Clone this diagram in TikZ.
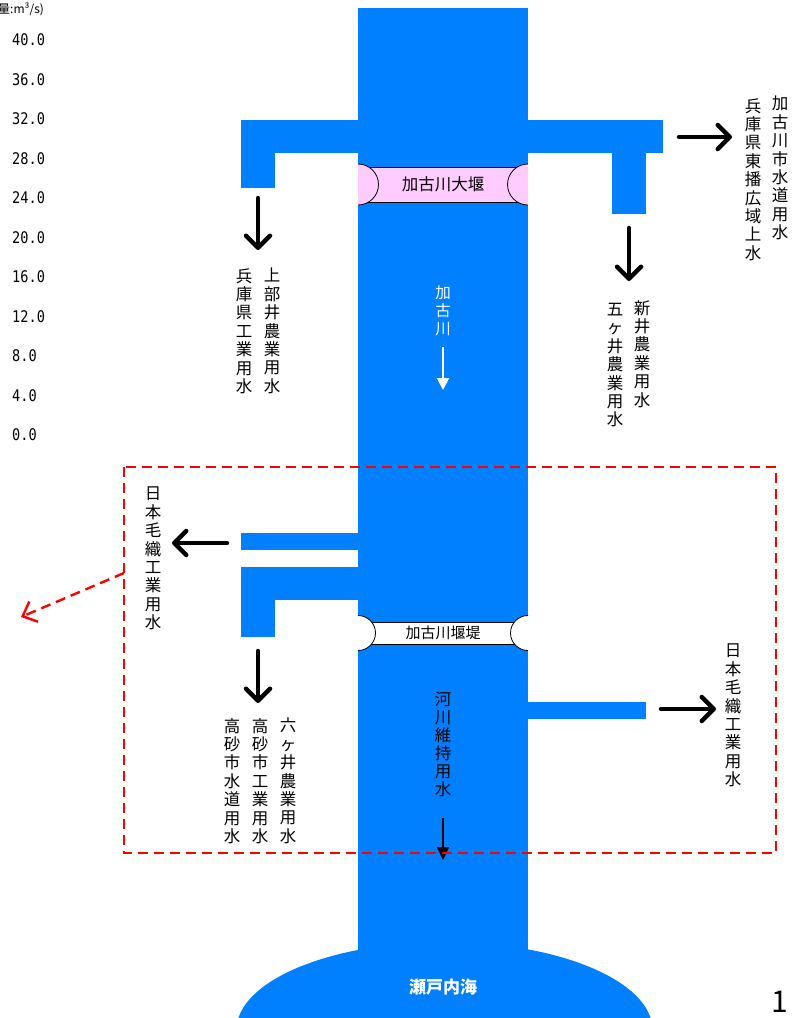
\documentclass[tikz,border=0pt]{standalone}
\usepackage{fontspec}
\setmainfont{Noto Sans CJK JP}
\newfontfamily\scalefont{DejaVu Sans Mono}[FakeStretch=0.85]
\usetikzlibrary{arrows.meta}
\definecolor{river}{RGB}{0,128,255}
\definecolor{weirpink}{RGB}{255,204,255}
\definecolor{frame}{RGB}{255,0,0}
\begin{document}
\begin{tikzpicture}[x=1pt,y=-1pt,
  vtext/.style={anchor=north,align=center,inner sep=0pt,
    font=\fontsize{16.5}{18.4}\selectfont},
  flow/.style={line width=4.5pt,line cap=round,
    -{Straight Barb[round,length=12pt,width=24pt]}},
  weirline/.style={draw=black,line width=0.8pt},
]
\useasboundingbox (0,0) rectangle (796,1018);

% sea and main channel
\fill[river] (444.5,1030) ellipse[x radius=208,y radius=88];
\fill[river] (358,8) rectangle (528,950);
\node[font=\fontsize{17}{20}\selectfont\bfseries,text=white] (sea) at (443,987) {瀬戸内海};

% intake channels
\fill[river] (241,120) rectangle (358,153);
\fill[river] (241,152) rectangle (275,188);
\fill[river] (528,120) rectangle (663,153);
\fill[river] (612,152) rectangle (646,214);
\fill[river] (241,533) rectangle (358,550);
\fill[river] (241,567) rectangle (358,600);
\fill[river] (241,599) rectangle (275,637);
\fill[river] (528,702) rectangle (646,719);

% upper weir
\fill[weirpink] (358,167) rectangle (528,202);
\draw[weirline] (358,167) -- (528,167) (358,202) -- (528,202);
\fill[weirpink] (358,164) arc[start angle=-90,end angle=90,radius=20.5] -- cycle;
\draw[weirline] (358,164) arc[start angle=-90,end angle=90,radius=20.5];
\fill[weirpink] (528,164) arc[start angle=-90,end angle=-270,radius=20.5] -- cycle;
\draw[weirline] (528,164) arc[start angle=-90,end angle=-270,radius=20.5];
\node[font=\fontsize{16.5}{18}\selectfont] (weir1) at (443,184.5) {加古川大堰};

% lower weir
\fill[white] (358,622) rectangle (528,644);
\draw[weirline] (358,622) -- (528,622) (358,644) -- (528,644);
\fill[white] (358,615.5) arc[start angle=-90,end angle=90,radius=17.5] -- cycle;
\draw[weirline] (358,615.5) arc[start angle=-90,end angle=90,radius=17.5];
\fill[white] (528,615.5) arc[start angle=-90,end angle=-270,radius=17.5] -- cycle;
\draw[weirline] (528,615.5) arc[start angle=-90,end angle=-270,radius=17.5];
\node[font=\fontsize{15}{18}\selectfont] (weir2) at (443,633) {加古川堰堤};

% river labels and flow direction
\node[vtext,text=white,font=\fontsize{15.5}{18}\selectfont] (kako) at (443,285) {加\\古\\川};
\coordinate (w1) at (443,347);
\coordinate (w2) at (443,390);
\draw[white,line width=2pt,-{Triangle[length=12pt,width=12pt]}] (w1) -- (w2);
\node[vtext,font=\fontsize{16.5}{18}\selectfont] (maint) at (443,692) {河\\川\\維\\持\\用\\水};
\coordinate (m1) at (443,818);
\coordinate (m2) at (443,860);
\draw[black,line width=2pt,-{Triangle[length=13pt,width=12pt]}] (m1) -- (m2);

% withdrawal arrows
\coordinate (a1s) at (258,198); \coordinate (a1e) at (258,250);
\coordinate (a2s) at (629,228); \coordinate (a2e) at (629,281);
\coordinate (a3s) at (679,137); \coordinate (a3e) at (732,137);
\coordinate (a4s) at (227,543); \coordinate (a4e) at (172,543);
\coordinate (a5s) at (258,651); \coordinate (a5e) at (258,703);
\coordinate (a6s) at (661,709); \coordinate (a6e) at (716,709);
\foreach \s/\e in {a1s/a1e,a2s/a2e,a3s/a3e,a4s/a4e,a5s/a5e,a6s/a6e}
  \draw[flow] (\s) -- (\e);

% user labels
\node[vtext] (u1) at (272,268) {上\\部\\井\\農\\業\\用\\水};
\node[vtext] (u2) at (244,268) {兵\\庫\\県\\工\\業\\用\\水};
\node[vtext] (u3) at (642,300) {新\\井\\農\\業\\用\\水};
\node[vtext] (u4) at (615,303) {五\\ヶ\\井\\農\\業\\用\\水};
\node[vtext] (u5) at (780,96) {加\\古\\川\\市\\水\\道\\用\\水};
\node[vtext] (u6) at (753,98) {兵\\庫\\県\\東\\播\\広\\域\\上\\水};
\node[vtext] (u7) at (153,487) {日\\本\\毛\\織\\工\\業\\用\\水};
\node[vtext] (u8) at (288,718) {六\\ヶ\\井\\農\\業\\用\\水};
\node[vtext] (u9) at (260,718) {高\\砂\\市\\工\\業\\用\\水};
\node[vtext] (u10) at (232,718) {高\\砂\\市\\水\\道\\用\\水};
\node[vtext] (u11) at (733,644) {日\\本\\毛\\織\\工\\業\\用\\水};

% highlighted section
\draw[frame,line width=2.6pt,dash pattern=on 10pt off 6pt] (124,467) rectangle (776,853);
\coordinate (r1) at (124,573);
\coordinate (r2) at (21,617);
\draw[frame,line width=2.4pt,dash pattern=on 10pt off 6pt,
  -{Straight Barb[length=12pt,width=22pt]}] (r1) -- (r2);

% discharge scale
\node[anchor=west,inner sep=0pt,font=\fontsize{12}{13}\selectfont] (unit) at (-2,9) {量:m³/s)};
\foreach \v [count=\i from 0] in {40.0,36.0,32.0,28.0,24.0,20.0,16.0,12.0,8.0,4.0,0.0}
  \node[anchor=west,inner sep=0pt,font=\scalefont\fontsize{16}{18}\selectfont] (s\i) at (12,40+39.5*\i) {\v};

% page number
\node[anchor=base west,inner sep=0pt,font=\fontsize{30}{34}\selectfont] (pg) at (771,1012) {1};
\end{tikzpicture}
\end{document}
